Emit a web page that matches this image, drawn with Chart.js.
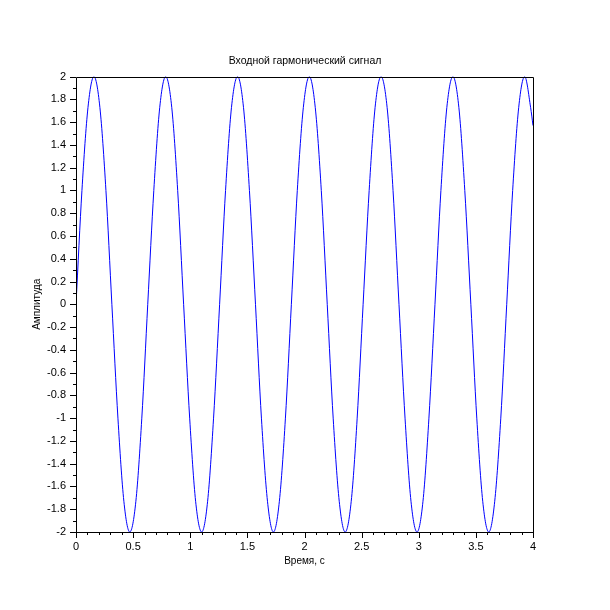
<!DOCTYPE html>
<html>
<head>
<meta charset="utf-8">
<script src="https://cdn.jsdelivr.net/npm/chart.js@4.4.1/dist/chart.umd.min.js"></script>
<style>
  html, body { margin: 0; padding: 0; background: #fff; }
  #wrap { width: 610px; height: 610px; }
</style>
</head>
<body>
<div id="wrap"><canvas id="sigChart" width="610" height="610"></canvas></div>
<script>
// Входной гармонический сигнал
const times = [
  0, 0.052, 0.105, 0.157, 0.209, 0.262, 0.314, 0.367, 0.419, 0.471, 0.524, 0.576,
  0.628, 0.681, 0.733, 0.785, 0.838, 0.890, 0.942, 0.995, 1.047, 1.100, 1.152, 1.204,
  1.257, 1.309, 1.361, 1.414, 1.466, 1.518, 1.571, 1.623, 1.676, 1.728, 1.780, 1.833,
  1.885, 1.937, 1.990, 2.042, 2.094, 2.147, 2.199, 2.251, 2.304, 2.356, 2.409, 2.461,
  2.513, 2.566, 2.618, 2.670, 2.723, 2.775, 2.827, 2.880, 2.932, 2.985, 3.037, 3.089,
  3.142, 3.194, 3.246, 3.299, 3.351, 3.403, 3.456, 3.508, 3.560, 3.613, 3.665, 3.718,
  3.770, 3.822, 3.875, 3.927, 3.979, 4.0
];
const amplitude = [
  0, 1, 1.73, 2, 1.73, 1, 0, -1, -1.73, -2, -1.73, -1,
  0, 1, 1.73, 2, 1.73, 1, 0, -1, -1.73, -2, -1.73, -1,
  0, 1, 1.73, 2, 1.73, 1, 0, -1, -1.73, -2, -1.73, -1,
  0, 1, 1.73, 2, 1.73, 1, 0, -1, -1.73, -2, -1.73, -1,
  0, 1, 1.73, 2, 1.73, 1, 0, -1, -1.73, -2, -1.73, -1,
  0, 1, 1.73, 2, 1.73, 1, 0, -1, -1.73, -2, -1.73, -1,
  0, 1, 1.73, 2, 1.73, 1.57
];
const xTickStep = 0.5;
const yTickStep = 0.2;

const FONT = "'Liberation Sans', Arial, Helvetica, sans-serif";
const fmt = v => String(+Number(v).toFixed(1));

// frame + major/minor tick marks, scilab style
const framePlugin = {
  id: 'frame',
  afterDraw(chart) {
    const { ctx, chartArea: a } = chart;
    const xs = chart.scales.x, ys = chart.scales.y;
    ctx.save();
    ctx.strokeStyle = '#000';
    ctx.lineWidth = 1;
    ctx.beginPath();
    ctx.rect(Math.round(a.left) + 0.5, Math.round(a.top) + 0.5,
             Math.round(a.right - a.left), Math.round(a.bottom - a.top));
    // x ticks every 0.1, major every 0.5
    for (let i = 0; i <= 40; i++) {
      const px = Math.round(xs.getPixelForValue(i / 10)) + 0.5;
      const len = i % 5 === 0 ? 6 : 3;
      ctx.moveTo(px, Math.round(a.bottom));
      ctx.lineTo(px, Math.round(a.bottom) + len);
    }
    // y ticks every 0.1, major every 0.2
    for (let i = -20; i <= 20; i++) {
      const py = Math.round(ys.getPixelForValue(i / 10)) + 0.5;
      const len = i % 2 === 0 ? 6 : 3;
      ctx.moveTo(Math.round(a.left), py);
      ctx.lineTo(Math.round(a.left) - len, py);
    }
    ctx.stroke();
    ctx.restore();
  }
};

const ctx = document.getElementById('sigChart').getContext('2d');
const sigChart = new Chart(ctx, {
  type: 'scatter',
  data: {
    datasets: [{
      data: times.map((t, i) => ({ x: t, y: amplitude[i] })),
      showLine: true,
      borderColor: '#0000ff',
      borderWidth: 1,
      pointRadius: 0,
      cubicInterpolationMode: 'monotone'
    }]
  },
  options: {
    responsive: false,
    animation: false,
    layout: { padding: 0 },
    plugins: {
      legend: { display: false },
      tooltip: { enabled: false },
      title: {
        display: true,
        text: 'Входной гармонический сигнал',
        color: '#000',
        font: { family: FONT, size: 10.5, weight: 'normal' },
        padding: { top: 55, bottom: 9 }
      }
    },
    scales: {
      x: {
        type: 'linear',
        min: 0, max: 4,
        afterFit: s => { s.height = 78; },
        grid: { display: false, drawTicks: false },
        border: { display: false },
        ticks: { stepSize: xTickStep, color: '#000', padding: 8, maxRotation: 0,
                 callback: fmt, font: { family: FONT, size: 11 } },
        title: { display: true, text: 'Время, с', color: '#000',
                 font: { family: FONT, size: 10 }, padding: { top: 0, bottom: 43 } }
      },
      y: {
        type: 'linear',
        min: -2, max: 2,
        afterFit: s => { s.width = 76; },
        grid: { display: false, drawTicks: false },
        border: { display: false },
        ticks: { stepSize: yTickStep, color: '#000', padding: 10,
                 callback: fmt, font: { family: FONT, size: 11 } },
        title: { display: true, text: 'Амплитуда', color: '#000',
                 font: { family: FONT, size: 10 }, padding: { top: 31 } }
      },
      // empty right margin so the title centres on the canvas
      yRight: {
        type: 'linear',
        position: 'right',
        min: -2, max: 2,
        afterFit: s => { s.width = 77; },
        grid: { display: false, drawTicks: false },
        border: { display: false },
        ticks: { display: false }
      }
    }
  },
  plugins: [framePlugin]
});
</script>
</body>
</html>
